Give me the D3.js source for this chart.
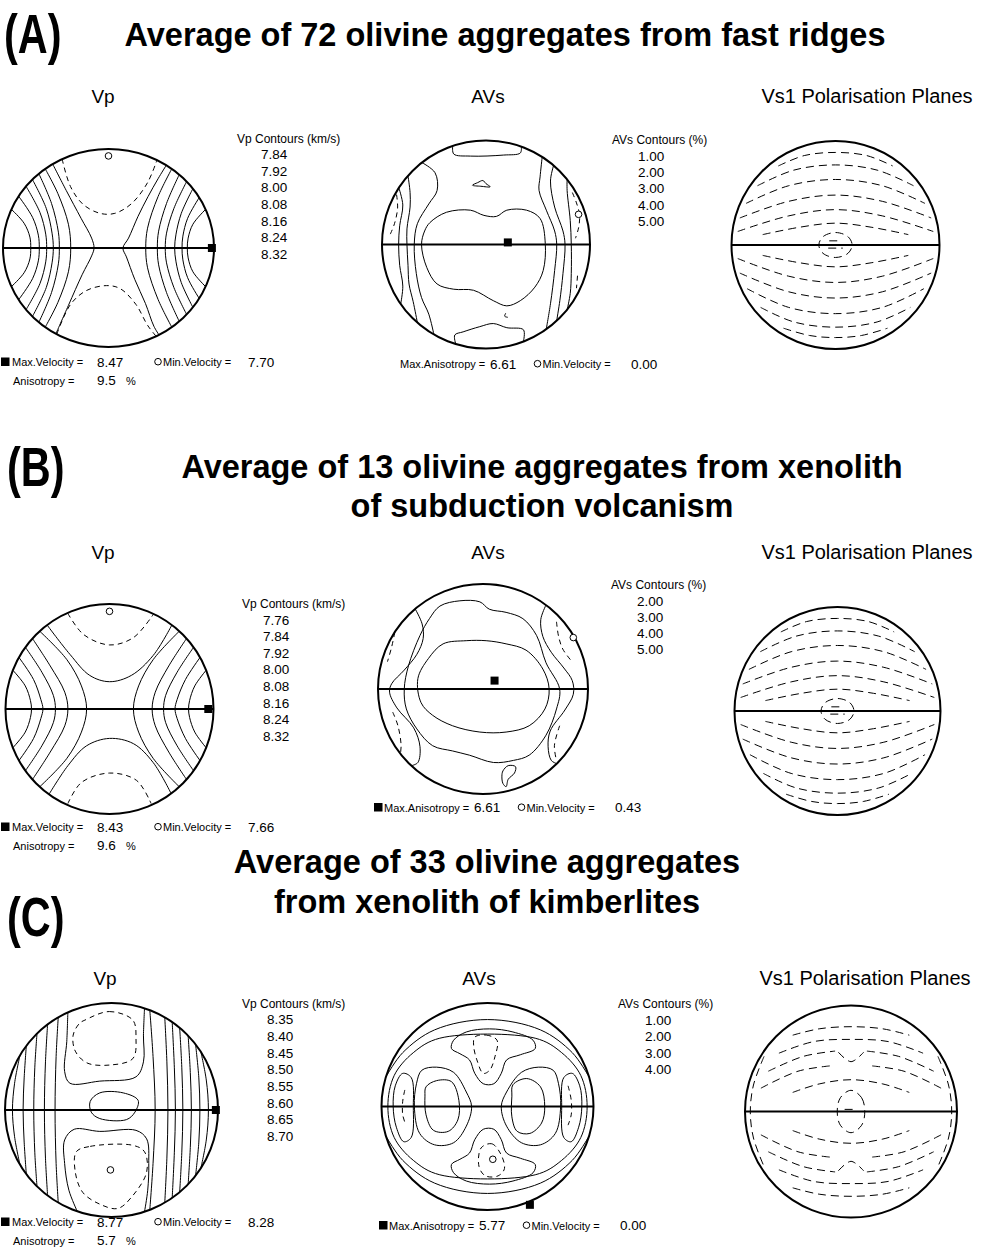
<!DOCTYPE html>
<html>
<head>
<meta charset="utf-8">
<script src="https://cdn.jsdelivr.net/npm/d3@7"></script>
<style>
  body { margin: 0; background: #fff; }
  svg { display: block; }
  text { font-family: "Liberation Sans", Arial, sans-serif; fill: #000; }
</style>
</head>
<body>
<svg id="fig" width="981" height="1256"></svg>
<script>
// contour = [level, closed, [[u, v], ...]]  (u, v in the unit stereonet, v up)

// ---- (A) fast ridges ----
var aVpLevels = [7.84, 7.92, 8.00, 8.08, 8.16, 8.24, 8.32];
var aVpStats = ["8.47", "7.70", "9.5"];
var aVpMax = [0.98, 0.0], aVpMin = [0.0, 0.93];
var aVp = [
  [7.84, 0, [[-0.44,0.90],[-0.36,0.62],[-0.24,0.44],[-0.08,0.35],[0.06,0.35],[0.22,0.45],[0.37,0.66],[0.46,0.89]]],
  [7.84, 0, [[-0.49,-0.87],[-0.36,-0.57],[-0.21,-0.43],[-0.02,-0.38],[0.11,-0.41],[0.26,-0.57],[0.37,-0.78],[0.45,-0.89]]],
  [7.92, 0, [[-0.53,0.85],[-0.40,0.58],[-0.26,0.30],[-0.16,0.10],[-0.137,0],[-0.16,-0.08],[-0.25,-0.27],[-0.38,-0.58],[-0.50,-0.87]]],
  [7.92, 0, [[0.55,0.84],[0.47,0.70],[0.375,0.52],[0.28,0.32],[0.19,0.10],[0.137,0],[0.17,-0.09],[0.25,-0.32],[0.35,-0.56],[0.43,-0.79],[0.48,-0.88]]],
  [8.00, 0, [[-0.60,0.80],[-0.48,0.55],[-0.38,0.24],[-0.358,0],[-0.38,-0.24],[-0.48,-0.55],[-0.60,-0.80]]],
  [8.08, 0, [[-0.66,0.75],[-0.54,0.45],[-0.475,0.16],[-0.466,0],[-0.475,-0.16],[-0.54,-0.45],[-0.66,-0.75]]],
  [8.16, 0, [[-0.72,0.69],[-0.59,0.40],[-0.535,0.15],[-0.523,0],[-0.535,-0.15],[-0.59,-0.40],[-0.72,-0.69]]],
  [8.24, 0, [[-0.78,0.62],[-0.65,0.36],[-0.595,0.14],[-0.586,0],[-0.595,-0.14],[-0.65,-0.36],[-0.78,-0.62]]],
  [8.32, 0, [[-0.85,0.52],[-0.72,0.31],[-0.665,0.13],[-0.656,0],[-0.665,-0.13],[-0.72,-0.31],[-0.85,-0.52]]],
  [8.40, 0, [[-0.92,0.39],[-0.80,0.25],[-0.745,0.11],[-0.737,0],[-0.745,-0.11],[-0.80,-0.25],[-0.92,-0.39]]],
  [8.00, 0, [[0.60,0.80],[0.47,0.52],[0.37,0.20],[0.353,0],[0.37,-0.20],[0.47,-0.52],[0.60,-0.80]]],
  [8.08, 0, [[0.67,0.74],[0.55,0.45],[0.475,0.17],[0.463,0],[0.475,-0.17],[0.55,-0.45],[0.67,-0.74]]],
  [8.16, 0, [[0.74,0.67],[0.62,0.40],[0.55,0.15],[0.538,0],[0.55,-0.15],[0.62,-0.40],[0.74,-0.67]]],
  [8.24, 0, [[0.80,0.60],[0.69,0.35],[0.64,0.14],[0.627,0],[0.64,-0.14],[0.69,-0.35],[0.80,-0.60]]],
  [8.32, 0, [[0.86,0.51],[0.75,0.30],[0.705,0.12],[0.697,0],[0.705,-0.12],[0.75,-0.30],[0.86,-0.51]]],
  [8.40, 0, [[0.92,0.39],[0.80,0.24],[0.755,0.10],[0.747,0],[0.755,-0.10],[0.80,-0.24],[0.92,-0.39]]]
];

var aAVsLevels = [1.00, 2.00, 3.00, 4.00, 5.00];
var aAVsStats = ["6.61", "0.00"];
var aAVsMax = [0.21, 0.02], aAVsMin = [0.89, 0.29];
var aAVs = [
  [5, 1, [[-0.54,0.21],[-0.38,0.31],[-0.15,0.33],[-0.02,0.28],[0.10,0.27],[0.20,0.33],[0.39,0.33],[0.52,0.25],[0.57,0.01],[0.55,-0.25],[0.47,-0.41],[0.33,-0.54],[0.20,-0.59],[0.07,-0.54],[-0.12,-0.44],[-0.31,-0.43],[-0.47,-0.38],[-0.57,-0.22],[-0.62,0.0],[-0.59,0.13]]],
  [4, 0, [[-0.32,0.95],[-0.31,0.87],[-0.15,0.85],[0.17,0.86],[0.33,0.88],[0.34,0.94]]],
  [4, 0, [[-0.29,-0.96],[-0.30,-0.87],[-0.22,-0.84],[-0.06,-0.79],[0.07,-0.76],[0.20,-0.80],[0.36,-0.82],[0.36,-0.93]]],
  [5, 1, [[-0.13,0.57],[-0.08,0.595],[-0.03,0.615],[0.0,0.585],[0.04,0.555],[-0.05,0.56]]],
  [5, 0, [[0.19,-0.66],[0.18,-0.69],[0.21,-0.70]]],
  [4, 0, [[-0.62,0.79],[-0.49,0.69],[-0.47,0.52],[-0.55,0.39],[-0.66,0.20],[-0.69,0],[-0.67,-0.28],[-0.62,-0.51],[-0.55,-0.67],[-0.50,-0.87]]],
  [3, 0, [[-0.75,0.66],[-0.73,0.50],[-0.73,0.36],[-0.76,0.15],[-0.76,0],[-0.75,-0.20],[-0.74,-0.38],[-0.70,-0.55],[-0.66,-0.75]]],
  [2, 0, [[-0.84,0.55],[-0.80,0.38],[-0.83,0.18],[-0.84,0],[-0.83,-0.20],[-0.80,-0.40],[-0.82,-0.57]]],
  [4, 0, [[0.54,0.84],[0.52,0.65],[0.51,0.52],[0.58,0.33],[0.66,0.13],[0.68,0],[0.66,-0.25],[0.62,-0.57],[0.58,-0.81]]],
  [3, 0, [[0.65,0.76],[0.62,0.61],[0.66,0.36],[0.74,0.13],[0.76,0],[0.74,-0.28],[0.71,-0.54],[0.68,-0.73]]],
  [2, 0, [[0.78,0.63],[0.78,0.52],[0.81,0.23],[0.82,0],[0.82,-0.28],[0.81,-0.47],[0.78,-0.63]]],
  [1, 0, [[-0.86,0.48],[-0.85,0.35],[-0.88,0.20],[-0.92,0.10]]],
  [1, 0, [[0.83,0.50],[0.87,0.40],[0.90,0.28],[0.89,0.16],[0.86,0.06]]],
  [1, 0, [[0.88,-0.30],[0.87,-0.42]]]
];

// polarisation traces = [closed, [[u, v], ...]]
var aVs1 = [
  [0, [[-0.55,0.76],[-0.30,0.86],[0,0.89],[0.30,0.86],[0.55,0.76]]],
  [0, [[-0.75,0.57],[-0.40,0.72],[0,0.77],[0.40,0.72],[0.75,0.57]]],
  [0, [[-0.86,0.40],[-0.45,0.57],[0,0.63],[0.45,0.57],[0.86,0.40]]],
  [0, [[-0.92,0.26],[-0.45,0.42],[0,0.48],[0.45,0.42],[0.92,0.26]]],
  [0, [[-0.94,0.13],[-0.45,0.28],[0,0.34],[0.45,0.28],[0.94,0.13]]],
  [0, [[-0.70,0.10],[-0.35,0.17],[0,0.21],[0.35,0.17],[0.70,0.10]]],
  [1, [[0,0.12],[0.12,0.08],[0.16,0],[0.12,-0.08],[0,-0.12],[-0.12,-0.08],[-0.16,0],[-0.12,0.08]]],
  [0, [[-0.06,0.04],[0.06,0.04]]],
  [0, [[-0.07,-0.03],[0.07,-0.03]]],
  [0, [[-0.70,-0.10],[-0.35,-0.17],[0,-0.21],[0.35,-0.17],[0.70,-0.10]]],
  [0, [[-0.94,-0.13],[-0.45,-0.30],[0,-0.36],[0.45,-0.30],[0.94,-0.13]]],
  [0, [[-0.92,-0.27],[-0.45,-0.45],[0,-0.51],[0.45,-0.45],[0.92,-0.27]]],
  [0, [[-0.85,-0.42],[-0.45,-0.60],[0,-0.66],[0.45,-0.60],[0.85,-0.42]]],
  [0, [[-0.72,-0.60],[-0.40,-0.74],[0,-0.79],[0.40,-0.74],[0.72,-0.60]]],
  [0, [[-0.50,-0.80],[-0.25,-0.87],[0,-0.89],[0.25,-0.87],[0.50,-0.80]]]
];

// ---- (B) subduction volcanism ----
var bVpLevels = [7.76, 7.84, 7.92, 8.00, 8.08, 8.16, 8.24, 8.32];
var bVpStats = ["8.43", "7.66", "9.6"];
var bVpMax = [0.95, 0.0], bVpMin = [0.0, 0.93];
var bVp = [
  [7.76, 0, [[-0.40,0.91],[-0.25,0.71],[0,0.61],[0.23,0.68],[0.42,0.90]]],
  [7.76, 0, [[-0.40,-0.90],[-0.27,-0.70],[0,-0.61],[0.26,-0.68],[0.40,-0.90]]],
  [7.84, 0, [[-0.60,0.80],[-0.38,0.52],[-0.19,0.32],[0,0.26],[0.21,0.32],[0.42,0.51],[0.60,0.80]]],
  [7.84, 0, [[-0.58,-0.81],[-0.40,-0.54],[-0.22,-0.35],[0,-0.28],[0.23,-0.33],[0.42,-0.51],[0.59,-0.80]]],
  [7.92, 0, [[-0.67,0.74],[-0.41,0.47],[-0.27,0.22],[-0.22,0],[-0.27,-0.22],[-0.41,-0.47],[-0.67,-0.74]]],
  [8.00, 0, [[-0.74,0.67],[-0.57,0.41],[-0.43,0.16],[-0.40,0],[-0.43,-0.16],[-0.57,-0.41],[-0.74,-0.67]]],
  [8.08, 0, [[-0.81,0.59],[-0.65,0.35],[-0.54,0.13],[-0.52,0],[-0.54,-0.13],[-0.65,-0.35],[-0.81,-0.59]]],
  [8.16, 0, [[-0.87,0.49],[-0.73,0.28],[-0.66,0.09],[-0.64,0],[-0.66,-0.09],[-0.73,-0.28],[-0.87,-0.49]]],
  [8.24, 0, [[-0.93,0.37],[-0.81,0.22],[-0.76,0.08],[-0.75,0],[-0.76,-0.08],[-0.81,-0.22],[-0.93,-0.37]]],
  [7.92, 0, [[0.67,0.74],[0.42,0.47],[0.28,0.22],[0.23,0],[0.28,-0.22],[0.42,-0.47],[0.67,-0.74]]],
  [8.00, 0, [[0.74,0.67],[0.57,0.41],[0.44,0.16],[0.41,0],[0.44,-0.16],[0.57,-0.41],[0.74,-0.67]]],
  [8.08, 0, [[0.81,0.59],[0.65,0.35],[0.54,0.13],[0.52,0],[0.54,-0.13],[0.65,-0.35],[0.81,-0.59]]],
  [8.16, 0, [[0.87,0.49],[0.73,0.28],[0.65,0.09],[0.63,0],[0.65,-0.09],[0.73,-0.28],[0.87,-0.49]]],
  [8.24, 0, [[0.93,0.37],[0.82,0.22],[0.77,0.08],[0.76,0],[0.77,-0.08],[0.82,-0.22],[0.93,-0.37]]]
];

var bAVsLevels = [2.00, 3.00, 4.00, 5.00];
var bAVsStats = ["6.61", "0.43"];
var bAVsMax = [0.11, 0.08], bAVsMin = [0.86, 0.49];
var bAVs = [
  [5, 1, [[-0.62,0.10],[-0.52,0.29],[-0.38,0.43],[-0.16,0.46],[0.03,0.46],[0.22,0.43],[0.41,0.37],[0.57,0.19],[0.63,0],[0.59,-0.19],[0.44,-0.35],[0.22,-0.41],[-0.03,-0.41],[-0.29,-0.35],[-0.48,-0.25],[-0.59,-0.13]]],
  [4, 1, [[-0.51,0.67],[-0.41,0.79],[-0.22,0.84],[-0.03,0.83],[0.06,0.76],[0.22,0.73],[0.38,0.67],[0.51,0.51],[0.60,0.25],[0.73,0],[0.70,-0.19],[0.60,-0.44],[0.44,-0.63],[0.29,-0.68],[0.10,-0.70],[-0.13,-0.63],[-0.29,-0.59],[-0.48,-0.54],[-0.63,-0.38],[-0.73,-0.19],[-0.75,0],[-0.71,0.22],[-0.60,0.51]]],
  [3, 0, [[-0.65,0.77],[-0.58,0.62],[-0.57,0.48],[-0.63,0.33],[-0.75,0.18],[-0.87,0.05],[-0.89,-0.03],[-0.82,-0.18],[-0.66,-0.37],[-0.60,-0.55],[-0.62,-0.70],[-0.68,-0.73]]],
  [3, 0, [[0.60,0.80],[0.55,0.66],[0.57,0.50],[0.65,0.35],[0.77,0.20],[0.85,0.08],[0.86,-0.05],[0.78,-0.20],[0.64,-0.40],[0.62,-0.55],[0.65,-0.68],[0.70,-0.71]]],
  [2, 0, [[-0.84,0.54],[-0.87,0.40],[-0.91,0.26]]],
  [2, 0, [[-0.86,-0.22],[-0.81,-0.35],[-0.78,-0.54],[-0.79,-0.64]]],
  [2, 0, [[0.70,0.64],[0.72,0.50],[0.76,0.38],[0.84,0.27]]],
  [2, 0, [[0.73,-0.35],[0.68,-0.54],[0.70,-0.68]]],
  [5, 1, [[0.19,-0.78],[0.24,-0.73],[0.31,-0.74],[0.30,-0.80],[0.24,-0.86],[0.22,-0.93],[0.19,-0.90],[0.18,-0.83]]]
];

var bVs1 = [
  [0, [[-0.55,0.76],[-0.30,0.86],[0,0.89],[0.30,0.86],[0.55,0.76]]],
  [0, [[-0.75,0.57],[-0.40,0.72],[0,0.77],[0.40,0.72],[0.75,0.57]]],
  [0, [[-0.86,0.40],[-0.45,0.57],[0,0.63],[0.45,0.57],[0.86,0.40]]],
  [0, [[-0.92,0.26],[-0.45,0.42],[0,0.48],[0.45,0.42],[0.92,0.26]]],
  [0, [[-0.94,0.13],[-0.45,0.28],[0,0.34],[0.45,0.28],[0.94,0.13]]],
  [0, [[-0.70,0.10],[-0.35,0.17],[0,0.21],[0.35,0.17],[0.70,0.10]]],
  [1, [[0,0.12],[0.12,0.08],[0.16,0],[0.12,-0.08],[0,-0.12],[-0.12,-0.08],[-0.16,0],[-0.12,0.08]]],
  [0, [[-0.06,0.04],[0.06,0.04]]],
  [0, [[-0.07,-0.03],[0.07,-0.03]]],
  [0, [[-0.70,-0.10],[-0.35,-0.17],[0,-0.21],[0.35,-0.17],[0.70,-0.10]]],
  [0, [[-0.94,-0.13],[-0.45,-0.30],[0,-0.36],[0.45,-0.30],[0.94,-0.13]]],
  [0, [[-0.92,-0.27],[-0.45,-0.45],[0,-0.51],[0.45,-0.45],[0.92,-0.27]]],
  [0, [[-0.85,-0.42],[-0.45,-0.60],[0,-0.66],[0.45,-0.60],[0.85,-0.42]]],
  [0, [[-0.72,-0.60],[-0.40,-0.74],[0,-0.79],[0.40,-0.74],[0.72,-0.60]]],
  [0, [[-0.50,-0.80],[-0.25,-0.87],[0,-0.89],[0.25,-0.87],[0.50,-0.80]]]
];

// ---- (C) kimberlites ----
var cVpLevels = [8.35, 8.40, 8.45, 8.50, 8.55, 8.60, 8.65, 8.70];
var cVpStats = ["8.77", "8.28", "5.7"];
var cVpMax = [0.98, 0.0], cVpMin = [-0.01, -0.56];
var cVp = [
  [8.35, 1, [[-0.25,0.84],[-0.02,0.92],[0.20,0.84],[0.23,0.67],[0.20,0.48],[-0.02,0.42],[-0.23,0.44],[-0.34,0.55],[-0.36,0.70],[-0.30,0.81]]],
  [8.35, 1, [[-0.33,-0.39],[-0.20,-0.34],[0.20,-0.33],[0.31,-0.39],[0.33,-0.58],[0.20,-0.80],[0.06,-0.92],[-0.11,-0.88],[-0.27,-0.77],[-0.34,-0.58]]],
  [8.40, 0, [[-0.41,0.91],[-0.42,0.64],[-0.44,0.36],[-0.39,0.25],[-0.11,0.27],[0.23,0.31],[0.30,0.45],[0.30,0.70],[0.31,0.95]]],
  [8.40, 0, [[-0.32,-0.95],[-0.40,-0.75],[-0.44,-0.50],[-0.44,-0.28],[-0.35,-0.18],[-0.11,-0.20],[0.23,-0.19],[0.33,-0.27],[0.35,-0.50],[0.34,-0.75],[0.31,-0.95]]],
  [8.55, 1, [[-0.20,0.08],[-0.11,0.16],[0.11,0.16],[0.25,0.09],[0.22,-0.02],[0.14,-0.09],[-0.11,-0.08],[-0.19,-0.02]]],
  [8.45, 0, [[-0.50,0.87],[-0.52,0.50],[-0.53,0],[-0.52,-0.50],[-0.50,-0.87]]],
  [8.50, 0, [[-0.60,0.80],[-0.62,0.45],[-0.63,0],[-0.62,-0.45],[-0.60,-0.80]]],
  [8.55, 0, [[-0.70,0.71],[-0.72,0.40],[-0.73,0],[-0.72,-0.40],[-0.70,-0.71]]],
  [8.60, 0, [[-0.80,0.60],[-0.82,0.30],[-0.83,0],[-0.82,-0.30],[-0.80,-0.60]]],
  [8.65, 0, [[-0.86,0.51],[-0.91,0.25],[-0.93,0],[-0.91,-0.25],[-0.86,-0.51]]],
  [8.45, 0, [[0.36,0.93],[0.39,0.50],[0.41,0],[0.39,-0.50],[0.36,-0.93]]],
  [8.50, 0, [[0.50,0.87],[0.52,0.45],[0.53,0],[0.52,-0.45],[0.50,-0.87]]],
  [8.55, 0, [[0.57,0.82],[0.59,0.40],[0.60,0],[0.59,-0.40],[0.57,-0.82]]],
  [8.60, 0, [[0.64,0.77],[0.66,0.40],[0.67,0],[0.66,-0.40],[0.64,-0.77]]],
  [8.65, 0, [[0.72,0.69],[0.74,0.35],[0.75,0],[0.74,-0.35],[0.72,-0.69]]],
  [8.70, 0, [[0.79,0.61],[0.82,0.30],[0.83,0],[0.82,-0.30],[0.79,-0.61]]],
  [8.70, 0, [[0.84,0.54],[0.89,0.28],[0.91,0],[0.89,-0.28],[0.84,-0.54]]]
];

var cAVsLevels = [1.00, 2.00, 3.00, 4.00];
var cAVsStats = ["5.77", "0.00"];
var cAVsMax = [0.40, -0.95], cAVsMin = [0.05, -0.51];
var cAVs = [
  [4, 1, [[-0.58,0.19],[-0.48,0.25],[-0.34,0.24],[-0.27,0.06],[-0.28,-0.13],[-0.37,-0.24],[-0.51,-0.23],[-0.58,-0.08],[-0.59,0.10]]],
  [4, 1, [[0.24,0.21],[0.37,0.27],[0.50,0.19],[0.54,0],[0.51,-0.16],[0.40,-0.26],[0.28,-0.24],[0.23,-0.10],[0.23,0.10]]],
  [3, 1, [[-0.62,0.35],[-0.48,0.38],[-0.32,0.33],[-0.20,0.14],[-0.15,0],[-0.20,-0.19],[-0.32,-0.35],[-0.50,-0.37],[-0.64,-0.26],[-0.69,0],[-0.67,0.22]]],
  [3, 1, [[0.62,0.35],[0.48,0.38],[0.32,0.33],[0.18,0.14],[0.13,0],[0.18,-0.19],[0.32,-0.35],[0.50,-0.37],[0.64,-0.26],[0.69,0],[0.67,0.22]]],
  [2, 1, [[-0.32,0.64],[-0.20,0.72],[0.02,0.75],[0.24,0.72],[0.43,0.64],[0.45,0.56],[0.31,0.50],[0.18,0.45],[0.13,0.32],[0.06,0.22],[-0.04,0.22],[-0.12,0.32],[-0.17,0.45],[-0.26,0.51],[-0.34,0.56]]],
  [1, 1, [[-0.12,0.67],[-0.01,0.69],[0.09,0.64],[0.07,0.48],[0.02,0.35],[-0.04,0.32],[-0.10,0.45],[-0.13,0.58]]],
  [2, 1, [[-0.32,-0.64],[-0.20,-0.72],[0.02,-0.75],[0.24,-0.72],[0.43,-0.64],[0.45,-0.56],[0.31,-0.50],[0.18,-0.45],[0.13,-0.32],[0.06,-0.22],[-0.04,-0.22],[-0.12,-0.32],[-0.17,-0.45],[-0.26,-0.51],[-0.34,-0.56]]],
  [1, 1, [[-0.06,-0.40],[0.04,-0.36],[0.12,-0.45],[0.16,-0.60],[0.10,-0.67],[-0.02,-0.67],[-0.08,-0.58]]],
  [2, 1, [[-0.72,0.28],[-0.80,0.32],[-0.87,0.20],[-0.89,0],[-0.86,-0.20],[-0.79,-0.34],[-0.72,-0.30],[-0.70,0]]],
  [2, 1, [[0.72,0.28],[0.80,0.32],[0.87,0.20],[0.89,0],[0.86,-0.20],[0.79,-0.34],[0.72,-0.30],[0.70,0]]],
  [1, 0, [[-0.78,0.16],[-0.80,0.05],[-0.80,-0.08],[-0.77,-0.18]]],
  [1, 0, [[0.76,0.20],[0.79,0.06],[0.79,-0.08],[0.76,-0.18]]],
  [3, 0, [[-0.95,0.30],[-0.80,0.52],[-0.50,0.74],[0,0.84],[0.50,0.74],[0.80,0.52],[0.95,0.30]]],
  [3, 0, [[-0.95,-0.30],[-0.80,-0.52],[-0.50,-0.74],[0,-0.84],[0.50,-0.74],[0.80,-0.52],[0.95,-0.30]]],
  [2, 1, [[-0.94,0],[-0.88,0.30],[-0.70,0.52],[-0.45,0.66],[0.45,0.66],[0.70,0.52],[0.88,0.30],[0.94,0],[0.88,-0.30],[0.70,-0.52],[0.45,-0.66],[-0.45,-0.66],[-0.70,-0.52],[-0.88,-0.30]]]
];

var cVs1 = [
  [0, [[-0.55,0.72],[-0.30,0.78],[0,0.80],[0.30,0.78],[0.55,0.72]]],
  [0, [[-0.68,0.55],[-0.35,0.66],[0,0.68],[0.35,0.66],[0.68,0.55]]],
  [0, [[-0.78,0.38],[-0.45,0.52],[-0.15,0.57]]],
  [0, [[0.15,0.57],[0.45,0.52],[0.78,0.38]]],
  [0, [[-0.12,0.56],[0,0.47],[0.12,0.56]]],
  [0, [[-0.85,0.22],[-0.50,0.38],[-0.20,0.43]]],
  [0, [[0.20,0.43],[0.50,0.38],[0.85,0.22]]],
  [0, [[-0.55,0.18],[-0.30,0.26],[0,0.30],[0.30,0.26],[0.55,0.18]]],
  [1, [[0,0.20],[0.10,0.13],[0.13,0],[0.10,-0.13],[0,-0.20],[-0.10,-0.13],[-0.13,0],[-0.10,0.13]]],
  [0, [[-0.06,0.02],[0.06,0.02]]],
  [0, [[-0.55,-0.18],[-0.30,-0.26],[0,-0.30],[0.30,-0.26],[0.55,-0.18]]],
  [0, [[-0.85,-0.22],[-0.50,-0.38],[-0.20,-0.43]]],
  [0, [[0.20,-0.43],[0.50,-0.38],[0.85,-0.22]]],
  [0, [[-0.12,-0.56],[0,-0.47],[0.12,-0.56]]],
  [0, [[-0.78,-0.38],[-0.45,-0.52],[-0.15,-0.57]]],
  [0, [[0.15,-0.57],[0.45,-0.52],[0.78,-0.38]]],
  [0, [[-0.68,-0.55],[-0.35,-0.66],[0,-0.68],[0.35,-0.66],[0.68,-0.55]]],
  [0, [[-0.55,-0.72],[-0.30,-0.78],[0,-0.80],[0.30,-0.78],[0.55,-0.72]]],
  [0, [[-0.82,0.52],[-0.92,0.25],[-0.95,0],[-0.92,-0.25],[-0.82,-0.52]]],
  [0, [[0.82,0.52],[0.92,0.25],[0.95,0],[0.92,-0.25],[0.82,-0.52]]]
];

// ---- layout ----
var svg = d3.select("#fig");
svg.append("rect").attr("width", 981).attr("height", 1256).attr("fill", "#fff");

var nets = [
  { id: "aVp",  cx: 108.5, cy: 248,   rx: 105.5, ry: 99 },
  { id: "aAVs", cx: 486,   cy: 244.5, rx: 104,   ry: 104 },
  { id: "aVs1", cx: 835.5, cy: 245,   rx: 104,   ry: 104 },
  { id: "bVp",  cx: 109.5, cy: 709,   rx: 104,   ry: 105 },
  { id: "bAVs", cx: 483,   cy: 689,   rx: 105,   ry: 105 },
  { id: "bVs1", cx: 837.5, cy: 711,   rx: 103,   ry: 104 },
  { id: "cVp",  cx: 111.5, cy: 1110,  rx: 106.5, ry: 107 },
  { id: "cAVs", cx: 487.5, cy: 1106.5, rx: 106,  ry: 103.5 },
  { id: "cVs1", cx: 851,   cy: 1111.5, rx: 106,  ry: 106 }
];

function stereonet(p) {
  var x = d3.scaleLinear().domain([-1, 1]).range([p.cx - p.rx, p.cx + p.rx]);
  var y = d3.scaleLinear().domain([-1, 1]).range([p.cy + p.ry, p.cy - p.ry]);
  svg.append("clipPath").attr("id", "clip-" + p.id)
    .append("ellipse").attr("cx", p.cx).attr("cy", p.cy).attr("rx", p.rx).attr("ry", p.ry);
  var g = svg.append("g");
  var inner = g.append("g").attr("clip-path", "url(#clip-" + p.id + ")");
  g.append("line")
    .attr("x1", x(-1)).attr("x2", x(1)).attr("y1", y(0)).attr("y2", y(0))
    .attr("stroke", "#000").attr("stroke-width", 2);
  g.append("ellipse")
    .attr("cx", p.cx).attr("cy", p.cy).attr("rx", p.rx).attr("ry", p.ry)
    .attr("fill", "none").attr("stroke", "#000").attr("stroke-width", 2);
  return { x: x, y: y, g: g, inner: inner };
}

function lineGen(s, closed) {
  return d3.line().x(d => s.x(d[0])).y(d => s.y(d[1]))
    .curve(closed ? d3.curveCatmullRomClosed.alpha(0.5) : d3.curveCatmullRom.alpha(0.5));
}

function drawContours(s, contours, lowest) {
  s.inner.selectAll("path.contour").data(contours).enter().append("path")
    .attr("class", "contour")
    .attr("d", d => lineGen(s, d[1])(d[2]))
    .attr("fill", "none")
    .attr("stroke", "#000")
    .attr("stroke-width", 1)
    .attr("stroke-dasharray", d => d[0] === lowest ? "5,4" : null);
}

function drawTraces(s, traces) {
  s.inner.selectAll("path.trace").data(traces).enter().append("path")
    .attr("class", "trace")
    .attr("d", d => lineGen(s, d[0])(d[1]))
    .attr("fill", "none")
    .attr("stroke", "#000")
    .attr("stroke-width", 1)
    .attr("stroke-dasharray", "8,5");
}

function drawMarks(s, maxPt, minPt) {
  if (maxPt) {
    s.g.append("rect")
      .attr("x", s.x(maxPt[0]) - 4).attr("y", s.y(maxPt[1]) - 4)
      .attr("width", 8).attr("height", 8).attr("fill", "#000");
  }
  if (minPt) {
    s.g.append("circle")
      .attr("cx", s.x(minPt[0])).attr("cy", s.y(minPt[1])).attr("r", 3.3)
      .attr("fill", "#fff").attr("stroke", "#000").attr("stroke-width", 1);
  }
}

function txt(x, y, str, size, opts) {
  opts = opts || {};
  return svg.append("text").attr("x", x).attr("y", y)
    .attr("font-size", size)
    .attr("font-weight", opts.bold ? "bold" : null)
    .attr("text-anchor", opts.anchor || "start")
    .text(str);
}

function legend(x, y, header, vx, levels, step) {
  txt(x, y, header, 12);
  levels.forEach(function (v, i) {
    txt(vx, y + 16.6 + i * step, v.toFixed(2), 13.5);
  });
}

function square(x, y) {
  svg.append("rect").attr("x", x).attr("y", y).attr("width", 8.5).attr("height", 8.5).attr("fill", "#000");
}
function ring(x, y) {
  svg.append("circle").attr("cx", x).attr("cy", y).attr("r", 3.3)
    .attr("fill", "none").attr("stroke", "#000").attr("stroke-width", 1);
}

function vpStats(y, stats) {
  square(1, y - 8.5);
  txt(12, y, "Max.Velocity =", 11);
  txt(97, y + 0.5, stats[0], 13.5);
  ring(158, y - 4.3);
  txt(163, y, "Min.Velocity =", 11);
  txt(248, y + 0.5, stats[1], 13.5);
  txt(13, y + 18.5, "Anisotropy =", 11);
  txt(97, y + 19, stats[2], 13.5);
  txt(126, y + 18.5, "%", 11);
}

function avsStats(x0, y, stats, withSq) {
  if (withSq) square(x0 - 10, y - 8.5);
  txt(x0, y, "Max.Anisotropy =", 11);
  txt(x0 + 90, y + 0.5, stats[0], 13.5);
  ring(x0 + 137.5, y - 4.3);
  txt(x0 + 142.5, y, "Min.Velocity =", 11);
  txt(x0 + 231, y + 0.5, stats[1], 13.5);
}

function tag(x, y, str) {
  svg.append("text")
    .attr("transform", "translate(" + x + "," + y + ") scale(0.74,1)")
    .attr("font-size", 56).attr("font-weight", "bold")
    .text(str);
}

// ---- row A ----
tag(4, 53, "(A)");
txt(505, 46, "Average of 72 olivine aggregates from fast ridges", 32.5, { bold: 1, anchor: "middle" });
txt(103, 103, "Vp", 19, { anchor: "middle" });
txt(488, 103, "AVs", 19, { anchor: "middle" });
txt(867, 103, "Vs1 Polarisation Planes", 20, { anchor: "middle" });

var s = stereonet(nets[0]);
drawContours(s, aVp, aVpLevels[0]);
drawMarks(s, aVpMax, aVpMin);
legend(237, 142.5, "Vp  Contours (km/s)", 261, aVpLevels, 16.6);
vpStats(366, aVpStats);

s = stereonet(nets[1]);
drawContours(s, aAVs, aAVsLevels[0]);
drawMarks(s, aAVsMax, aAVsMin);
legend(612, 144, "AVs Contours (%)", 638, aAVsLevels, 16.3);
avsStats(400, 368, aAVsStats, false);

s = stereonet(nets[2]);
drawTraces(s, aVs1);

// ---- row B ----
tag(7, 486, "(B)");
txt(542, 478, "Average of 13 olivine aggregates from xenolith", 32.5, { bold: 1, anchor: "middle" });
txt(542, 517, "of subduction volcanism", 32.5, { bold: 1, anchor: "middle" });
txt(103, 559, "Vp", 19, { anchor: "middle" });
txt(488, 559, "AVs", 19, { anchor: "middle" });
txt(867, 559, "Vs1 Polarisation Planes", 20, { anchor: "middle" });

s = stereonet(nets[3]);
drawContours(s, bVp, bVpLevels[0]);
drawMarks(s, bVpMax, bVpMin);
legend(242, 608, "Vp  Contours (km/s)", 263, bVpLevels, 16.6);
vpStats(831, bVpStats);

s = stereonet(nets[4]);
drawContours(s, bAVs, bAVsLevels[0]);
drawMarks(s, bAVsMax, bAVsMin);
legend(611, 589, "AVs Contours (%)", 637, bAVsLevels, 16.1);
avsStats(384, 811.5, bAVsStats, true);

s = stereonet(nets[5]);
drawTraces(s, bVs1);

// ---- row C ----
tag(7, 936, "(C)");
txt(487, 873, "Average of 33 olivine  aggregates", 32.5, { bold: 1, anchor: "middle" });
txt(487, 913, "from xenolith of kimberlites", 32.5, { bold: 1, anchor: "middle" });
txt(105, 985, "Vp", 19, { anchor: "middle" });
txt(479, 985, "AVs", 19, { anchor: "middle" });
txt(865, 985, "Vs1 Polarisation Planes", 20, { anchor: "middle" });

s = stereonet(nets[6]);
drawContours(s, cVp, cVpLevels[0]);
drawMarks(s, cVpMax, cVpMin);
legend(242, 1007.5, "Vp  Contours (km/s)", 267, cVpLevels, 16.7);
vpStats(1226, cVpStats);

s = stereonet(nets[7]);
drawContours(s, cAVs, cAVsLevels[0]);
drawMarks(s, cAVsMax, cAVsMin);
legend(618, 1008, "AVs Contours (%)", 645, cAVsLevels, 16.6);
avsStats(389, 1229.5, cAVsStats, true);

s = stereonet(nets[8]);
drawTraces(s, cVs1);
</script>
</body>
</html>
